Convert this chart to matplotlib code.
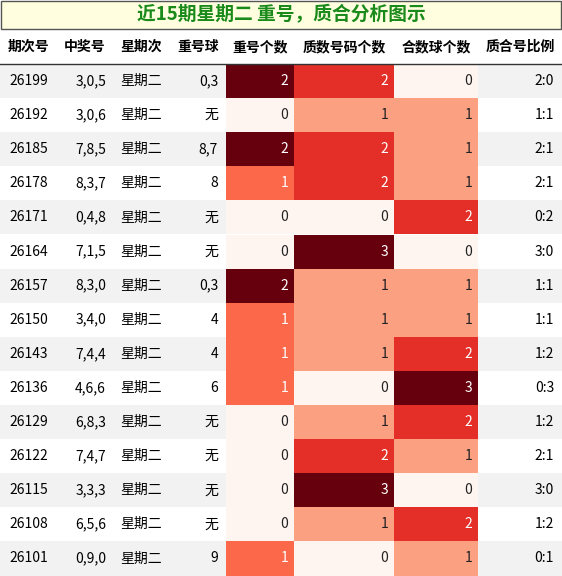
import matplotlib
matplotlib.use('Agg')
import matplotlib.pyplot as plt
from matplotlib.patches import Rectangle
from matplotlib.colors import Normalize

plt.rcParams['font.family'] = ['Noto Sans CJK SC', 'DejaVu Sans']

title = '近15期星期二 重号，质合分析图示'
headers = ['期次号', '中奖号', '星期次', '重号球', '重号个数', '质数号码个数', '合数球个数', '质合号比例']
periods = ['26199', '26192', '26185', '26178', '26171', '26164', '26157', '26150',
           '26143', '26136', '26129', '26122', '26115', '26108', '26101']
numbers = ['3,0,5', '3,0,6', '7,8,5', '8,3,7', '0,4,8', '7,1,5', '8,3,0', '3,4,0',
           '7,4,4', '4,6,6', '6,8,3', '7,4,7', '3,3,3', '6,5,6', '0,9,0']
weekday = ['星期二'] * 15
repeat_balls = ['0,3', '无', '8,7', '8', '无', '无', '0,3', '4', '4', '6', '无', '无', '无', '无', '9']
repeat_cnt = [2, 0, 2, 1, 0, 0, 2, 1, 1, 1, 0, 0, 0, 0, 1]
prime_cnt = [2, 1, 2, 2, 0, 3, 1, 1, 1, 0, 1, 2, 3, 1, 0]
comp_cnt = [0, 1, 1, 1, 2, 0, 1, 1, 2, 3, 2, 1, 0, 2, 1]
ratio = ['2:0', '1:1', '2:1', '2:1', '0:2', '3:0', '1:1', '1:1', '1:2', '0:3', '1:2', '2:1', '3:0', '1:2', '0:1']

W, H = 562, 576
fig = plt.figure(figsize=(W / 100, H / 100), dpi=100)
ax = fig.add_axes([0, 0, 1, 1])
ax.set_xlim(0, W); ax.set_ylim(H, 0); ax.axis('off')

edges = [0, 57, 113, 170, 226, 294, 394, 478, 562]
top_t, top_h, row_h = 0, 30, 34.1
ax.add_patch(Rectangle((1, 1), W - 2, 28, fc='#ffffe0', ec='#555555', lw=1))
ax.text(W / 2, 15, title, ha='center', va='center', fontsize=13.5, fontweight='bold', color='#1a8a1a')

hy = 30 + 17
for i, h in enumerate(headers):
    ax.text((edges[i] + edges[i + 1]) / 2, hy, h, ha='center', va='center', fontsize=10, fontweight='bold')
ax.plot([0, W], [64, 64], color='#333333', lw=1)

cmap = plt.get_cmap('Reds')
heat_cols = [(4, repeat_cnt), (5, prime_cnt), (6, comp_cnt)]
for r in range(15):
    y0 = 64 + r * row_h
    yc = y0 + row_h / 2
    if r % 2 == 0:
        ax.add_patch(Rectangle((0, y0), W, row_h, fc='#f2f2f2', ec='none'))
    ax.text((edges[0] + edges[1]) / 2, yc, periods[r], ha='center', va='center', fontsize=10)
    ax.text(edges[2] - 7, yc, numbers[r], ha='right', va='center', fontsize=10)
    ax.text(edges[2] + 7, yc, weekday[r], ha='left', va='center', fontsize=10)
    ax.text(edges[4] - 8, yc, repeat_balls[r], ha='right', va='center', fontsize=10)
    for c, vals in heat_cols:
        norm = Normalize(0, max(vals))
        v = norm(vals[r])
        ax.add_patch(Rectangle((edges[c], y0), edges[c + 1] - edges[c], row_h, fc=cmap(v), ec='none'))
        ax.text(edges[c + 1] - 6, yc, str(vals[r]), ha='right', va='center', fontsize=10,
                color='white' if v > 0.4 else '#222222')
    ax.text(edges[8] - 8, yc, ratio[r], ha='right', va='center', fontsize=10)

fig.savefig('out.png', dpi=100)
